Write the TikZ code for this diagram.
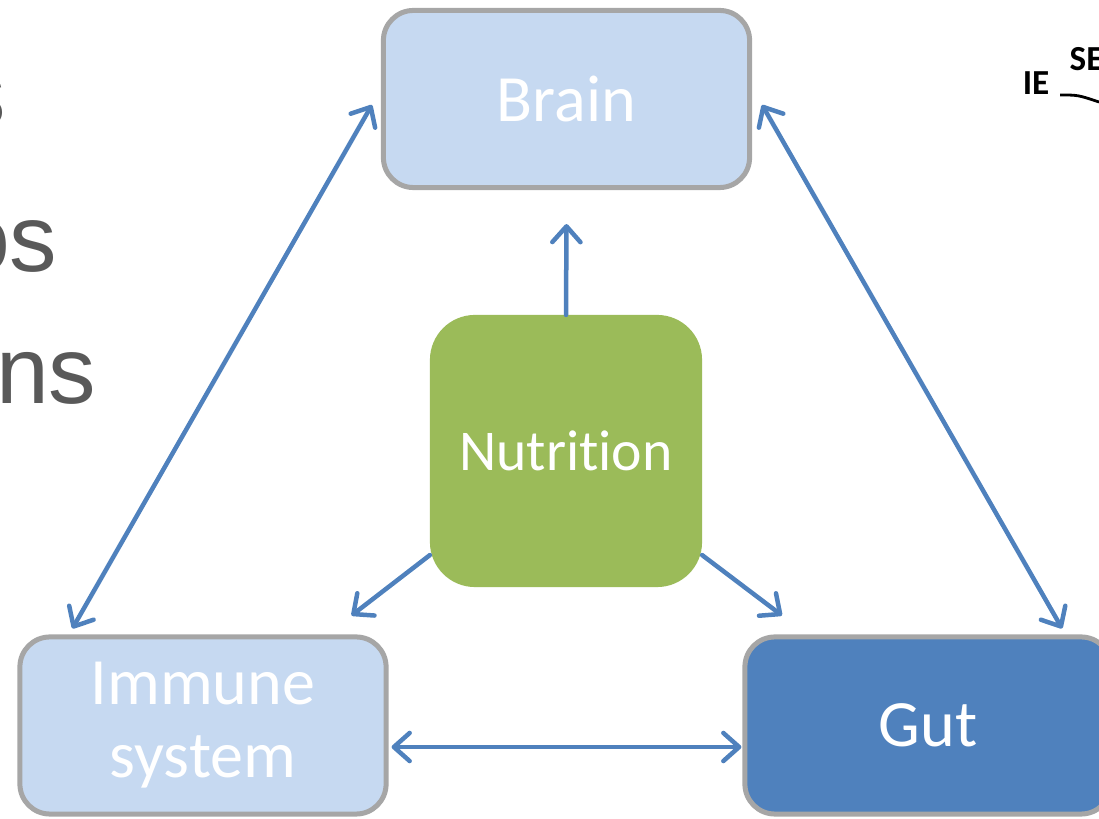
\documentclass[tikz,border=0pt]{standalone}
\usepackage{fontspec}
\setmainfont{Carlito}[Ligatures=NoCommon]
\newfontfamily\slidefont{Liberation Sans}
\usepackage{xcolor}
\usepackage{tikz}
\usetikzlibrary{arrows.meta}
\usetikzlibrary{positioning}
\definecolor{paleblue}{HTML}{C6D9F1}
\definecolor{gutblue}{HTML}{4F81BD}
\definecolor{edgegrey}{HTML}{A6A6A6}
\definecolor{nutgreen}{HTML}{9BBB59}
\definecolor{slidegrey}{HTML}{595959}
\tikzstyle{organ} = [draw=edgegrey, line width=0.05cm, rounded corners=0.3cm, minimum width=3.66cm, minimum height=1.77cm, text=white, align=center, font=\fontsize{18.8}{20.8}\selectfont]
\tikzstyle{link} = [draw, color=gutblue, line width=0.045cm, line cap=round, <->]
\tikzstyle{feed} = [draw, color=gutblue, line width=0.045cm, line cap=round, ->]
\tikzstyle{frag} = [anchor=base east, inner sep=0, text=slidegrey, font=\slidefont\fontsize{27}{30}\selectfont]

\begin{document}
\begin{tikzpicture}[x=0.01cm, y=-0.01cm, >={Straight Barb[round, length=4.5pt, width=8pt]}]
\useasboundingbox (0, 0) rectangle (1099, 819);

\node at (7, 127) [frag] (frag1) {s};
\node at (58, 272) [frag] (frag2) {os};
\node at (97, 404) [frag] (frag3) {ns};

\node at (1050, 95) [anchor=base east, inner sep=0, font=\bfseries\fontsize{10}{12}\selectfont] (ie) {IE};
\node at (1069, 71) [anchor=base west, inner sep=0, font=\bfseries\fontsize{10}{12}\selectfont] (se) {SE};
\coordinate (seEnd) at (1099, 102);
\path [draw, line width=0.8pt] ([xshift=0.1cm]ie.base east) .. controls (1078, 95) .. (seEnd);

\node at (566.5, 99) [organ, fill=paleblue] (Brain) {Brain};
\node at (203, 725.5) [organ, fill=paleblue] (Immune) {Immune\\system};
\node at (928, 725.5) [organ, fill=gutblue] (Gut) {Gut};
\node at (566, 451) [fill=nutgreen, rounded corners=0.45cm, minimum width=2.72cm, minimum height=2.72cm, inner sep=0, outer sep=0, text=white, font=\fontsize{16.4}{18}\selectfont] (Nutrition) {Nutrition};

\path [link] ([xshift=-0.09cm, yshift=-0.06cm]Brain.west) -- ([xshift=0.55cm, yshift=0.06cm]Immune.north west);
\path [link] ([xshift=0.10cm, yshift=-0.06cm]Brain.east) -- ([xshift=1.34cm, yshift=0.06cm]Gut.north);
\path [link] ([xshift=0.03cm, yshift=-0.215cm]Immune.east) -- ([xshift=-0.01cm, yshift=-0.215cm]Gut.west);

\path [feed] (Nutrition.north) -- ([yshift=-0.34cm]Brain.south);
\path [feed] ([yshift=0.32cm]Nutrition.south west) -- ([xshift=-0.37cm, yshift=0.19cm]Immune.north east);
\path [feed] ([yshift=0.32cm]Nutrition.south east) -- ([xshift=0.395cm, yshift=0.19cm]Gut.north west);
\end{tikzpicture}
\end{document}
